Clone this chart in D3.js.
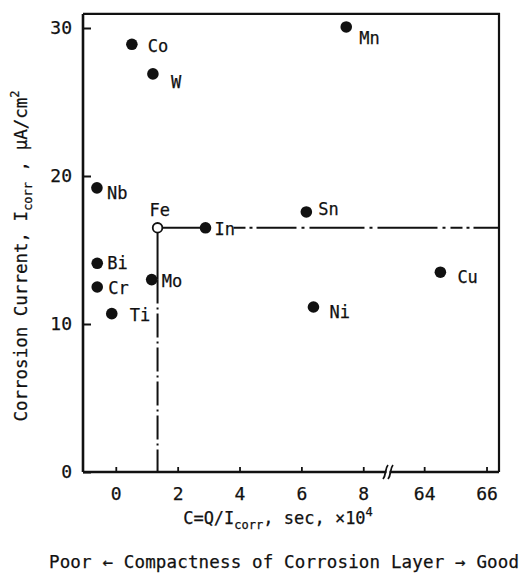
<!DOCTYPE html>
<html>
<head>
<meta charset="utf-8">
<script src="https://cdn.jsdelivr.net/npm/d3@7"></script>
<style>
  html, body { margin: 0; padding: 0; background: #fff; }
  svg text { font-family: "DejaVu Sans Mono", "Liberation Mono", monospace; fill: #111; stroke: #111; stroke-width: 0.25; }
</style>
</head>
<body>
<svg id="chart" width="523" height="574"></svg>
<script>
// ---- data ----
const elements = ["Co", "W", "Mn", "Nb", "Fe", "In", "Bi", "Cr", "Mo", "Ti", "Sn", "Cu", "Ni"];
const cValues  = [0.52, 1.2, 7.45, -0.61, 1.35, 2.9, -0.6, -0.6, 1.16, -0.13, 6.16, 64.52, 6.39];
const iValues  = [28.9, 26.9, 30.07, 19.2, 16.5, 16.5, 14.1, 12.5, 13.0, 10.7, 17.57, 13.5, 11.15];
const openMarker = ["Fe"];
const xTickValues = [0, 2, 4, 6, 8, 64, 66];
const yTickValues = [0, 10, 20, 30];

// ---- layout (label placement relative to marker) ----
const labelOffset = {
  Co: [16, 2], W: [18, 8], Mn: [13, 11], Nb: [10, 5], Fe: [-8, -18], In: [9, 1],
  Bi: [10, 0], Cr: [11, 1], Mo: [10, 1], Ti: [18, 1], Sn: [12, -3], Cu: [17, 5], Ni: [16, 5]
};

const svg = d3.select("#chart");
const x = d3.scaleLinear().domain([-1.06, 8.8, 62.84, 66.4]).range([83, 388, 388, 499]);
const y = d3.scaleLinear().domain([0, 30]).range([472, 28]);
const xL = x(-1.06), xR = x(66.4), yB = y(0), yT = y(30.95);
const xBreak = x(8.8);

const data = elements.map((e, i) => ({ name: e, c: cValues[i], v: iValues[i] }));
const fe = data.find(d => d.name === "Fe");
const inn = data.find(d => d.name === "In");
const mo = data.find(d => d.name === "Mo");

// reference lines
const g = svg.append("g");
g.append("line").attr("x1", x(fe.c)).attr("x2", x(inn.c)).attr("y1", y(fe.v)).attr("y2", y(fe.v))
  .attr("stroke", "#111").attr("stroke-width", 2);
g.append("line").attr("x1", x(inn.c) + 28).attr("x2", xR).attr("y1", y(fe.v)).attr("y2", y(fe.v))
  .attr("stroke", "#111").attr("stroke-width", 2).attr("stroke-dasharray", "12,4,3,4,40,5,3,5,55,5,3,5,60,5,3,5");
g.append("line").attr("x1", x(fe.c)).attr("x2", x(fe.c)).attr("y1", y(fe.v)).attr("y2", y(mo.v))
  .attr("stroke", "#111").attr("stroke-width", 2);
g.append("line").attr("x1", x(fe.c)).attr("x2", x(fe.c)).attr("y1", y(mo.v)).attr("y2", yB)
  .attr("stroke", "#111").attr("stroke-width", 2).attr("stroke-dasharray", "24,4,2,4");

// frame top/right
svg.append("path").attr("d", `M${xL},${yT}H${xR}V${yB}`).attr("fill", "none")
  .attr("stroke", "#111").attr("stroke-width", 2.2);

// y axis
const yAxis = svg.append("g").attr("transform", `translate(${xL},0)`)
  .call(d3.axisLeft(y).tickValues(yTickValues).tickSize(-8).tickPadding(11).tickFormat(d3.format("d")));
yAxis.select(".domain").attr("d", `M0,${yT}V${yB}`).attr("stroke", "#111").attr("stroke-width", 2.6);
yAxis.selectAll(".tick line").attr("stroke", "#111").attr("stroke-width", 2);
yAxis.selectAll(".tick text").attr("font-size", 18).attr("font-family", "DejaVu Sans Mono").attr("fill", "#111");

// x axis
const xAxis = svg.append("g").attr("transform", `translate(0,${yB})`)
  .call(d3.axisBottom(x).tickValues(xTickValues).tickSize(-5).tickPadding(15).tickFormat(d3.format("d")));
xAxis.select(".domain").attr("d", `M${xL},0H${xR}`).attr("stroke", "#111").attr("stroke-width", 2.6);
xAxis.selectAll(".tick line").attr("stroke", "#111").attr("stroke-width", 1.8);
xAxis.selectAll(".tick text").attr("font-size", 18).attr("font-family", "DejaVu Sans Mono").attr("fill", "#111");

// axis break
svg.append("rect").attr("x", xBreak - 1.5).attr("y", yB - 3).attr("width", 3).attr("height", 6).attr("fill", "#fff");
[-2.5, 2.5].forEach(o => {
  svg.append("path").attr("d", `M${xBreak + o - 2.5},${yB + 7}C${xBreak + o + 1},${yB + 3} ${xBreak + o - 1},${yB - 3} ${xBreak + o + 2.5},${yB - 7}`)
    .attr("fill", "none").attr("stroke", "#111").attr("stroke-width", 1.8);
});

// markers
svg.append("g").selectAll("circle").data(data).join("circle")
  .attr("cx", d => x(d.c)).attr("cy", d => y(d.v))
  .attr("r", d => openMarker.includes(d.name) ? 4.8 : 5.8)
  .attr("fill", d => openMarker.includes(d.name) ? "#fff" : "#111")
  .attr("stroke", "#111").attr("stroke-width", d => openMarker.includes(d.name) ? 1.8 : 0);

// labels
svg.append("g").selectAll("text").data(data).join("text")
  .attr("x", d => x(d.c) + labelOffset[d.name][0])
  .attr("y", d => y(d.v) + labelOffset[d.name][1])
  .attr("dy", "0.36em")
  .attr("font-size", 17)
  .text(d => d.name);

// y title
const yt = svg.append("text").attr("transform", "translate(27,256) rotate(-90)")
  .attr("text-anchor", "middle").attr("font-size", 17.5);
yt.append("tspan").text("Corrosion Current, I");
yt.append("tspan").attr("font-size", 12).attr("dy", 5).text("corr");
yt.append("tspan").attr("dy", -5).text(" , \u00b5A/cm");
yt.append("tspan").attr("font-size", 12).attr("dy", -8).text("2");

// x title
const xt = svg.append("text").attr("x", 278).attr("y", 524).attr("text-anchor", "middle").attr("font-size", 17);
xt.append("tspan").text("C=Q/I");
xt.append("tspan").attr("font-size", 12).attr("dy", 5).text("corr");
xt.append("tspan").attr("dy", -5).text(", sec, \u00d710");
xt.append("tspan").attr("font-size", 12).attr("dy", -8).text("4");

// bottom caption
svg.append("text").attr("x", 284).attr("y", 568).attr("text-anchor", "middle").attr("font-size", 17.5)
  .attr("textLength", 470).attr("lengthAdjust", "spacing")
  .text("Poor \u2190 Compactness of Corrosion Layer \u2192 Good");
</script>
</body>
</html>
